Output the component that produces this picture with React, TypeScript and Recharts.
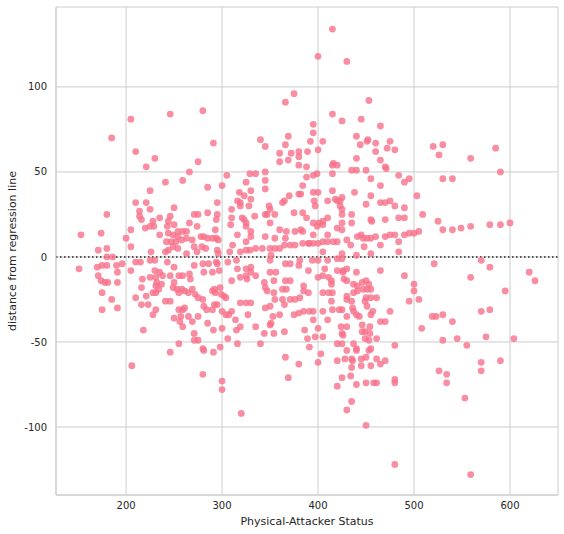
import React from 'react'
import {
  ScatterChart,
  Scatter,
  XAxis,
  YAxis,
  CartesianGrid,
  ReferenceLine,
} from 'recharts'

// residuals, grouped by region of the plot: [x, residual]
const topLeft: [number, number][] = [
  [185, 70], [205, 81], [246, 84], [280, 86], [291, 67], [210, 62], [230, 58], [275, 56], [221, 53],
  [375, 96], [366, 91], [369, 71], [340, 69], [345, 65], [366, 66], [360, 61], [372, 61], [380, 62],
  [380, 59], [360, 56], [369, 57], [389, 62], [392, 68], [380, 54], [388, 53],
]

const topRight: [number, number][] = [
  [415, 134], [400, 118], [430, 115], [453, 92], [415, 84], [425, 80], [445, 81], [465, 77], [395, 78],
  [395, 73], [405, 68], [400, 63], [440, 71], [444, 66], [451, 68], [452, 69], [460, 67], [475, 68],
  [472, 64], [480, 63], [460, 62], [465, 57], [440, 58], [415, 54], [416, 55], [420, 54], [470, 53],
  [471, 52], [520, 65], [530, 66], [526, 60], [559, 58], [585, 64], [590, 50],
]

const upperLeft: [number, number][] = [
  [241, 44], [259, 45], [225, 39], [210, 32], [221, 32], [214, 27], [225, 28], [250, 29], [180, 25],
  [214, 24], [216, 22], [235, 23], [228, 21], [246, 24], [244, 21], [250, 19], [243, 18], [225, 18],
  [229, 18], [220, 17], [205, 16], [254, 15], [259, 15], [244, 14], [235, 13], [249, 13], [254, 12],
  [242, 9], [247, 9], [252, 9], [258, 10], [249, 6], [254, 5], [244, 4], [241, 3], [200, 11], [205, 6],
  [226, 3], [180, 5], [171, 4], [174, 14], [153, 13], [180, 0], [186, 0],
]

const upperMid: [number, number][] = [
  [266, 50], [305, 48], [329, 49], [335, 49], [345, 50], [388, 47], [285, 41], [300, 42], [325, 44],
  [345, 45], [345, 40], [384, 42], [382, 37], [370, 36], [380, 37], [330, 39], [318, 38], [323, 36],
  [330, 34], [316, 33], [319, 32], [319, 30], [328, 30], [295, 32], [363, 32], [365, 33], [349, 30],
  [350, 28], [310, 28], [375, 26], [384, 26], [345, 25], [347, 25], [355, 25], [334, 24], [321, 23],
  [323, 22], [310, 23], [295, 25], [285, 26], [271, 25], [275, 25], [266, 20], [274, 18], [294, 22],
  [309, 19], [325, 20], [325, 18], [350, 20], [388, 23], [293, 16], [263, 15], [316, 13], [330, 15],
  [360, 16], [367, 15], [376, 15], [382, 16], [384, 15], [355, 11], [345, 12], [330, 12], [325, 9],
  [311, 7], [263, 11], [269, 10], [278, 12], [281, 12], [285, 11], [290, 11], [294, 11], [296, 10],
  [271, 6], [279, 6], [283, 5], [295, 4], [296, 2], [263, 2], [274, 3], [308, 3], [319, 3], [325, 4],
  [329, 4], [335, 5], [342, 5], [350, 5], [355, 5], [360, 5], [365, 7], [371, 7], [376, 7], [384, 8],
  [390, 8], [366, 11], [351, 1],
]

const upperRight: [number, number][] = [
  [395, 48], [399, 49], [415, 49], [435, 51], [440, 51], [450, 51], [455, 46], [484, 48], [495, 46],
  [490, 44], [465, 42], [395, 38], [400, 38], [415, 39], [438, 38], [455, 36], [503, 36], [410, 33],
  [418, 34], [420, 33], [425, 35], [423, 33], [396, 33], [397, 30], [423, 30], [425, 28], [425, 25],
  [450, 31], [465, 32], [470, 32], [475, 33], [480, 30], [490, 29], [435, 25], [509, 25], [470, 22],
  [484, 23], [490, 23], [455, 22], [456, 21], [435, 20], [425, 20], [410, 23], [405, 21], [401, 20],
  [395, 20], [420, 17], [425, 16], [399, 18], [405, 19], [410, 13], [395, 13], [445, 13], [441, 12],
  [447, 11], [451, 11], [455, 11], [460, 12], [470, 12], [475, 13], [480, 13], [490, 13], [495, 14],
  [500, 14], [505, 15], [430, 10], [434, 7], [420, 9], [416, 9], [410, 9], [405, 9], [400, 8],
  [395, 8], [391, 8], [448, 6], [465, 7], [484, 9], [484, 3], [455, 2], [440, 1], [425, 2], [405, 3],
  [530, 46], [540, 46], [525, 21], [530, 16], [540, 16], [549, 17], [559, 18], [579, 19], [590, 19],
  [600, 20],
]

const lowerLeft: [number, number][] = [
  [151, -7], [170, -6], [175, -5], [180, -5], [190, -5], [196, -4], [171, -11], [174, -14], [178, -15],
  [181, -15], [191, -9], [191, -15], [175, -21], [185, -25], [175, -31], [191, -30], [205, -8],
  [210, -3], [215, -3], [225, -2], [230, -2], [243, -3], [250, -6], [230, -8], [235, -9], [217, -13],
  [225, -12], [231, -12], [232, -15], [231, -17], [237, -16], [234, -19], [238, -11], [246, -11],
  [255, -11], [259, -11], [250, -15], [249, -18], [253, -19], [258, -19], [216, -18], [210, -24],
  [221, -23], [228, -21], [231, -21], [216, -28], [223, -28], [241, -26], [246, -26], [255, -21],
  [255, -31], [259, -31], [231, -31], [228, -34], [250, -36], [257, -35], [259, -41], [256, -38],
  [218, -43], [255, -51],
]

const lowerMid: [number, number][] = [
  [271, -5], [280, -4], [286, -4], [295, -4], [294, -3], [306, -3], [315, -2], [325, -7], [330, -6],
  [316, -7], [350, -2], [366, -4], [371, -4], [380, -5], [381, -2], [390, -8], [281, -9], [290, -9],
  [266, -10], [267, -13], [297, -8], [310, -14], [319, -12], [325, -11], [326, -13], [330, -9],
  [335, -11], [344, -15], [345, -18], [347, -20], [354, -14], [356, -9], [350, -9], [354, -21],
  [366, -14], [371, -14], [363, -19], [367, -19], [385, -17], [385, -20], [381, -24], [376, -25],
  [371, -25], [363, -25], [355, -25], [390, -21], [290, -20], [292, -19], [293, -21], [298, -18],
  [299, -22], [302, -23], [304, -24], [261, -20], [265, -21], [269, -19], [272, -22], [275, -24],
  [280, -25], [281, -29], [284, -31], [290, -31], [292, -28], [295, -28], [300, -32], [304, -34],
  [307, -34], [310, -32], [319, -27], [325, -27], [330, -27], [314, -37], [315, -43], [319, -41],
  [327, -34], [335, -41], [345, -30], [350, -29], [360, -34], [353, -35], [350, -40], [351, -39],
  [365, -28], [375, -34], [380, -33], [385, -32], [391, -32], [386, -43], [365, -44], [344, -45],
  [354, -45], [261, -30], [265, -35], [269, -38], [275, -35], [285, -39], [271, -45], [275, -49],
  [271, -49], [291, -43], [300, -42], [306, -48], [316, -51], [389, -48],
]

const lowerRight: [number, number][] = [
  [394, -2], [400, -2], [410, -2], [420, -1], [425, -1], [407, -7], [420, -8], [426, -8], [430, -7],
  [440, -9], [465, -8], [400, -12], [405, -11], [411, -12], [414, -14], [414, -16], [426, -9],
  [427, -13], [430, -14], [437, -16], [441, -17], [446, -15], [450, -14], [453, -16], [451, -19],
  [455, -19], [447, -19], [441, -20], [437, -21], [430, -23], [435, -26], [430, -25], [405, -21],
  [411, -21], [415, -21], [414, -26], [450, -24], [455, -24], [461, -24], [449, -26], [490, -11],
  [500, -16], [500, -20], [495, -26], [505, -25], [395, -32], [405, -32], [415, -31], [422, -31],
  [425, -31], [436, -30], [437, -32], [440, -34], [443, -35], [451, -29], [457, -32], [455, -34],
  [475, -32], [470, -38], [465, -38], [395, -37], [410, -37], [424, -41], [430, -41], [430, -35],
  [446, -40], [454, -41], [449, -44], [446, -44], [454, -45], [425, -45], [426, -46], [400, -42],
  [405, -47], [397, -47], [449, -48], [453, -49], [461, -48], [420, -51], [425, -51], [437, -51],
  [480, -52], [508, -42], [519, -35], [570, -2], [579, -6], [521, -4], [559, -12], [620, -9],
  [626, -14], [595, -20], [570, -32], [579, -31], [523, -35], [530, -34], [540, -38], [530, -49],
  [545, -48], [575, -47], [604, -48], [555, -52],
]

const bottom: [number, number][] = [
  [206, -64], [246, -56], [280, -54], [281, -55], [291, -56], [298, -53], [280, -69], [300, -73],
  [300, -78], [320, -92], [366, -59], [380, -63], [369, -71], [391, -53], [340, -51],
  [403, -57], [400, -62], [420, -61], [428, -60], [435, -60], [436, -61], [445, -60], [450, -59],
  [455, -64], [461, -60], [465, -63], [470, -61], [445, -64], [435, -65], [430, -55], [440, -55],
  [440, -54], [453, -55], [455, -54], [425, -71], [434, -70], [420, -76], [440, -75], [450, -74],
  [458, -74], [461, -74], [480, -72], [480, -74], [435, -85], [430, -90], [450, -99], [480, -122],
  [559, -128], [526, -67], [534, -69], [534, -74], [553, -83], [570, -62], [570, -67], [590, -61],
]

const xTicks = [200, 300, 400, 500, 600]
const yTicks = [-100, -50, 0, 50, 100]

const points = [topLeft, topRight, upperLeft, upperMid, upperRight, lowerLeft, lowerMid, lowerRight, bottom]
  .flat()
  .map(([x, y]) => ({ x, y }))

const FONT = '"DejaVu Sans", sans-serif'

const Dot = (props: any) => (
  <circle cx={props.cx} cy={props.cy} r={3.4} fill="#f77189" fillOpacity={0.8} />
)

export default function App() {
  return (
    <div style={{ position: 'fixed', left: 0, top: 0, width: 564, height: 534, background: '#fff' }}>
      <ScatterChart width={564} height={534} margin={{ top: 7, right: 6, bottom: 0, left: 0 }}>
        <CartesianGrid stroke="#cccccc" strokeWidth={1} />
        <XAxis
          type="number"
          dataKey="x"
          domain={[127, 650]}
          ticks={xTicks}
          allowDataOverflow
          height={39}
          tickLine={false}
          tickSize={0}
          tickMargin={7}
          axisLine={{ stroke: '#cccccc' }}
          tick={{ fontSize: 10, fill: '#262626', fontFamily: FONT }}
          label={{ value: 'Physical-Attacker Status', position: 'insideBottom', offset: 9, fontSize: 11, fill: '#262626', fontFamily: FONT }}
        />
        <XAxis xAxisId="top" orientation="top" type="number" domain={[127, 650]} height={0} tick={false} tickLine={false} axisLine={{ stroke: '#cccccc' }} />
        <YAxis
          type="number"
          dataKey="y"
          domain={[-140, 147]}
          ticks={yTicks}
          allowDataOverflow
          width={56}
          tickLine={false}
          tickMargin={9}
          tickSize={0}
          axisLine={{ stroke: '#cccccc' }}
          tick={{ fontSize: 10, fill: '#262626', fontFamily: FONT }}
          label={{ value: 'distance from regression line', angle: -90, position: 'center', dx: -16, fontSize: 11, fill: '#262626', fontFamily: FONT }}
        />
        <YAxis yAxisId="right" orientation="right" type="number" domain={[-140, 147]} width={0} tick={false} tickLine={false} axisLine={{ stroke: '#cccccc' }} />
        <ReferenceLine y={0} stroke="#222" strokeWidth={1.5} strokeDasharray="1.5 2.5" />
        <Scatter data={points} shape={<Dot />} isAnimationActive={false} />
      </ScatterChart>
    </div>
  )
}
